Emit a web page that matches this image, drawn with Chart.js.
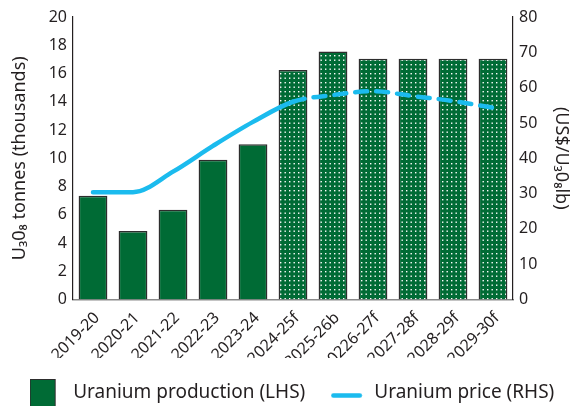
<!DOCTYPE html>
<html><head><meta charset="utf-8">
<script src="https://cdn.jsdelivr.net/npm/chart.js@4.4.1/dist/chart.umd.min.js"></script>
<style>html,body{margin:0;padding:0;background:#fff}#wrap{width:574px;height:406px}</style>
</head><body><div id="wrap"><canvas id="c" width="574" height="406"></canvas></div>
<script>
const categories = ['2019-20','2020-21','2021-22','2022-23','2023-24','2024-25f','2025-26b','20226-27f','2027-28f','2028-29f','2029-30f'];
const production = [7.35, 4.85, 6.35, 9.9, 11.0, 16.25, 17.55, 17.05, 17.05, 17.05, 17.05];
const price = [30.4, 30.4, 36.2, 43.5, 50.3, 56.0, 57.9, 59.0, 57.6, 56.2, 54.3];
const forecastFrom = 5;
const seriesLabels = ['Uranium production (LHS)', 'Uranium price (RHS)'];
const leftTitle = 'U\u20830\u2088 tonnes (thousands)';
const rightTitle = '(US$/U\u20830\u2088lb)';

const GREEN = '#006b35';
const BLUE = '#1bbbee';
const TEXT = '#231f20';
const FONT = "'Noto Sans', sans-serif";

function dotPattern(){
  const c = document.createElement('canvas'); c.width = 9; c.height = 9;
  const g = c.getContext('2d');
  g.fillStyle = GREEN; g.fillRect(0,0,9,9);
  g.fillStyle = '#ffffff';
  [[1,1],[5.5,1],[1,5.5],[5.5,5.5]].forEach(([x,y]) => g.fillRect(x,y,1.4,1.4));
  return g.createPattern(c,'repeat');
}
const pattern = dotPattern();

function barLegendImg(){
  const c = document.createElement('canvas'); c.width = 34; c.height = 34;
  const g = c.getContext('2d');
  g.fillStyle = GREEN; g.fillRect(0.5,3.5,25,30);
  g.strokeStyle = '#2d2d2d'; g.lineWidth = 1; g.strokeRect(0.5,3.5,25,30);
  return c;
}
function lineLegendImg(){
  const c = document.createElement('canvas'); c.width = 34; c.height = 34;
  const g = c.getContext('2d');
  g.strokeStyle = BLUE; g.lineWidth = 4.5; g.lineCap = 'round';
  g.beginPath(); g.moveTo(2.5,19.5); g.lineTo(29,19.5); g.stroke();
  return c;
}
const legendImgs = [barLegendImg(), lineLegendImg()];

new Chart(document.getElementById('c'), {
  data: {
    labels: categories,
    datasets: [
      {
        type: 'bar', label: seriesLabels[0], data: production, yAxisID: 'y', order: 1,
        backgroundColor: production.map((v,i) => i >= forecastFrom ? pattern : GREEN),
        borderColor: '#2d2d2d', borderWidth: 1.5,
        barPercentage: 0.72, categoryPercentage: 1.0
      },
      {
        type: 'line', label: seriesLabels[1], data: price, yAxisID: 'y1', order: 0,
        borderColor: BLUE, backgroundColor: BLUE, borderWidth: 4.5,
        borderCapStyle: 'round', borderJoinStyle: 'round',
        pointRadius: 0, pointHoverRadius: 0, fill: false,
        cubicInterpolationMode: 'monotone',
        segment: { borderDash: ctx => ctx.p0DataIndex >= forecastFrom ? [12, 9] : undefined }
      }
    ]
  },
  options: {
    responsive: false, animation: false, devicePixelRatio: 1,
    layout: { padding: { top: 17, left: 0, right: -10, bottom: -6.5 } },
    plugins: {
      tooltip: { enabled: false },
      legend: {
        position: 'bottom',
        labels: {
          usePointStyle: true, pointStyleWidth: 34, padding: 25.5,
          color: TEXT, font: { family: FONT, size: 19 },
          generateLabels: chart => chart.data.datasets.map((ds, i) => ({
            text: ds.label, pointStyle: legendImgs[i], fillStyle: GREEN,
            strokeStyle: 'transparent', lineWidth: 0, hidden: false, datasetIndex: i, fontColor: TEXT
          }))
        }
      }
    },
    scales: {
      x: {
        grid: { display: false, drawTicks: false },
        border: { display: true, color: '#8a8a8a', width: 1.5 },
        ticks: { color: TEXT, font: { family: FONT, size: 16 }, maxRotation: 45, minRotation: 45, autoSkip: false, padding: 9, labelOffset: 4 },
        afterFit: s => { s.height = 58.5; }
      },
      y: {
        position: 'left', min: 0, max: 20,
        grid: { display: false, drawTicks: false },
        border: { display: true, color: TEXT, width: 1.2 },
        ticks: { stepSize: 2, color: TEXT, font: { family: FONT, size: 16 }, padding: 6 },
        title: { display: true, text: leftTitle, color: TEXT, font: { family: FONT, size: 18 }, padding: { top: 9, bottom: 0 } },
        afterFit: s => { s.width = 73; }
      },
      y1: {
        position: 'right', min: 0, max: 80,
        grid: { display: false, drawTicks: false },
        border: { display: true, color: TEXT, width: 1.2 },
        ticks: { stepSize: 10, color: TEXT, font: { family: FONT, size: 16 }, padding: 6 },
        title: { display: true, text: rightTitle, color: TEXT, font: { family: FONT, size: 18 }, padding: { top: 12, bottom: 0 } },
        afterFit: s => { s.width = 71; }
      }
    }
  }
});
</script>
</body></html>
